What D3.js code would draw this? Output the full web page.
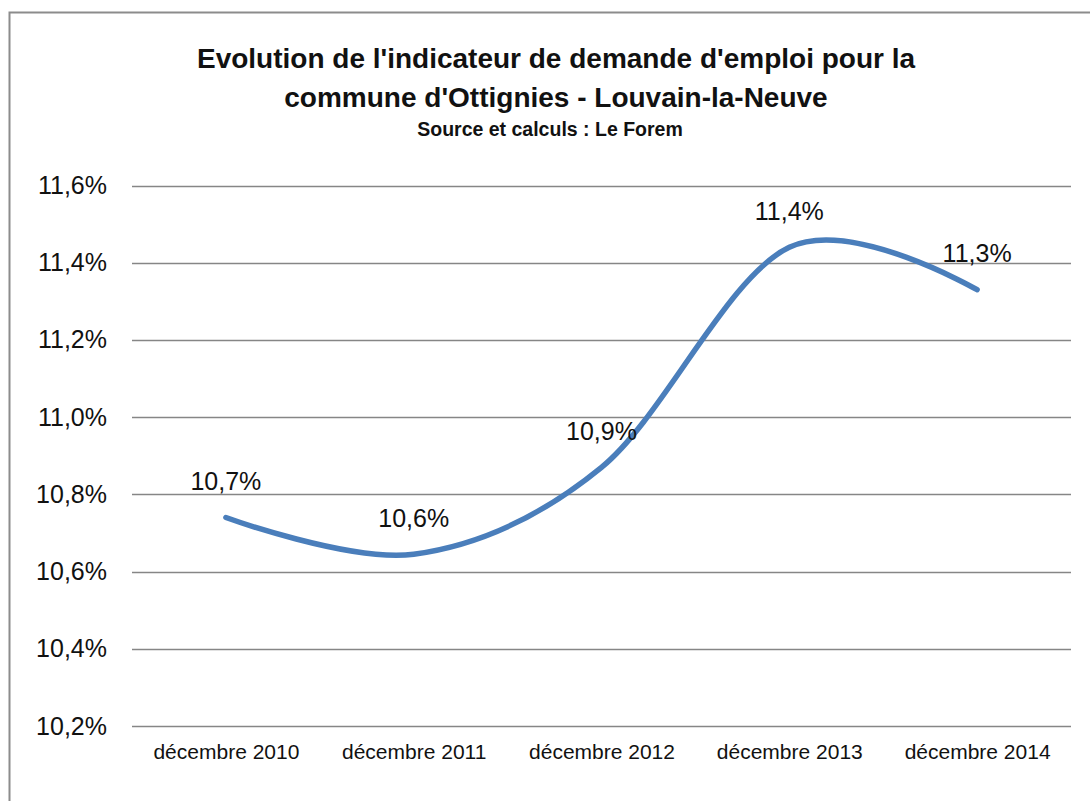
<!DOCTYPE html>
<html>
<head>
<meta charset="utf-8">
<script src="https://cdn.jsdelivr.net/npm/d3@7"></script>
<style>
  body { margin: 0; background: #fff; }
  svg { display: block; }
</style>
</head>
<body>
<svg id="chart" width="1090" height="801"></svg>
<script>
// data
var categories = ["décembre 2010", "décembre 2011", "décembre 2012", "décembre 2013", "décembre 2014"];
var values = [10.74, 10.645, 10.87, 11.44, 11.33];
var yTicks = [10.2, 10.4, 10.6, 10.8, 11.0, 11.2, 11.4, 11.6];
var titleLines = ["Evolution de l'indicateur de demande d'emploi pour la", "commune d'Ottignies - Louvain-la-Neuve"];
var subtitle = "Source et calculs : Le Forem";

var svg = d3.select("#chart");

// outer frame (runs off the right and bottom edge like the screenshot)
svg.append("rect")
  .attr("x", 9.5).attr("y", 12.5)
  .attr("width", 1200).attr("height", 900)
  .attr("fill", "none")
  .attr("stroke", "#8c8c8c")
  .attr("stroke-width", 2);

var x = d3.scalePoint()
  .domain(categories)
  .range([132, 1071])
  .padding(0.5);

var y = d3.scaleLinear()
  .domain([10.2, 11.6])
  .range([726, 185.5]);

var comma = function(v, f) { return d3.format(f)(v).replace(".", ",") + "%"; };

// gridlines
svg.append("g")
  .selectAll("line")
  .data(yTicks)
  .enter()
  .append("line")
    .attr("x1", 132).attr("x2", 1071)
    .attr("y1", function(d){ return Math.round(y(d)) + 0.5 })
    .attr("y2", function(d){ return Math.round(y(d)) + 0.5 })
    .attr("stroke", "#868686")
    .attr("stroke-width", 1.6);

// y axis labels
var yAxis = d3.axisLeft(y)
  .tickValues(yTicks)
  .tickSize(0)
  .tickPadding(0)
  .tickFormat(function(d){ return comma(d, ".1f") });

svg.append("g")
  .attr("transform", "translate(107,0)")
  .call(yAxis)
  .call(function(g){ g.select(".domain").remove() })
  .selectAll("text")
    .attr("font-family", "'Liberation Sans', Arial, sans-serif")
    .attr("font-size", 25)
    .attr("fill", "#111");

// x axis labels
var xAxis = d3.axisBottom(x).tickSize(0).tickPadding(0);
svg.append("g")
  .attr("transform", "translate(0,744)")
  .call(xAxis)
  .call(function(g){ g.select(".domain").remove() })
  .selectAll("text")
    .attr("font-family", "'Liberation Sans', Arial, sans-serif")
    .attr("font-size", 21)
    .attr("fill", "#111");

// smoothed line
var line = d3.line()
  .x(function(d, i){ return x(categories[i]) })
  .y(function(d){ return y(d) })
  .curve(d3.curveCardinal.tension(0));

svg.append("path")
  .datum(values)
  .attr("d", line)
  .attr("fill", "none")
  .attr("stroke", "#4a7ebb")
  .attr("stroke-width", 5.5)
  .attr("stroke-linecap", "round");

// data labels above each point
svg.append("g")
  .selectAll("text")
  .data(values)
  .enter()
  .append("text")
    .attr("x", function(d, i){ return x(categories[i]) })
    .attr("y", function(d){ return y(d) - 36 })
    .attr("dy", "0.35em")
    .attr("text-anchor", "middle")
    .attr("font-family", "'Liberation Sans', Arial, sans-serif")
    .attr("font-size", 25)
    .attr("fill", "#111")
    .text(function(d){ return comma(d, ".1f") });

// titles
svg.append("g")
  .selectAll("text")
  .data(titleLines)
  .enter()
  .append("text")
    .attr("x", 556)
    .attr("y", function(d, i){ return 68 + i * 39 })
    .attr("text-anchor", "middle")
    .attr("font-family", "'Liberation Sans', Arial, sans-serif")
    .attr("font-weight", "bold")
    .attr("font-size", 28)
    .attr("fill", "#111")
    .text(function(d){ return d });

svg.append("text")
  .attr("x", 550)
  .attr("y", 136)
  .attr("text-anchor", "middle")
  .attr("font-family", "'Liberation Sans', Arial, sans-serif")
  .attr("font-weight", "bold")
  .attr("font-size", 19.5)
  .attr("fill", "#111")
  .text(subtitle);
</script>
</body>
</html>
